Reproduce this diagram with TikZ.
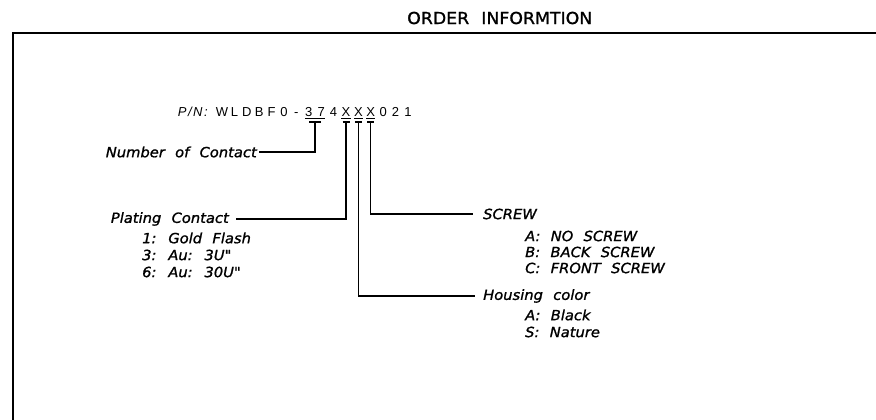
\documentclass[tikz,border=0pt]{standalone}
\usepackage{fontspec}
\setmainfont{Liberation Sans}
\newfontfamily\cadfont[WordSpace=2.2,FakeStretch=1.05,FakeBold=1.2]{DejaVu Sans}
\newfontfamily\pnfont[LetterSpace=12]{Liberation Sans}
\usetikzlibrary{positioning}
\tikzset{
  frame/.style={line width=1.4pt},
  lead/.style={line width=1.2pt},
  lbl/.style={font=\cadfont\itshape\fontsize{14}{16}\selectfont,inner sep=0pt,anchor=west},
  pnchar/.style={font=\fontsize{13}{15}\selectfont,inner sep=0pt,anchor=base},
}
\begin{document}
\begin{tikzpicture}[x=1pt,y=-1pt]
\useasboundingbox (0,0) rectangle (876,420);
\node[font=\cadfont\fontsize{16.5}{18}\selectfont,anchor=west,inner sep=0pt] (title) at (407,18) {ORDER INFORMTION};
\draw[frame] (876,33) -- (13,33) -- (13,420);
\node[font=\pnfont\itshape\fontsize{13}{15}\selectfont,inner sep=0pt,anchor=base east] (pn) at (208,116) {P/N:};
\foreach \i/\ch in {0/W,1/L,2/D,3/B,4/F,5/0,6/-,7/3,8/7,9/4,10/X,11/X,12/X,13/0,14/2,15/1}{\node[pnchar] (c\i) at ({222+12.4*\i},116) {\ch};}
\draw[line width=.8pt] ([yshift=-2pt]c7.base west) -- ([yshift=-2pt]c8.base east);
\coordinate (t37) at ({222+12.4*7.5},122);
\draw[lead] ([xshift=-6pt]t37) -- ([xshift=6pt]t37);
\foreach \i in {10,11,12}{
  \draw[line width=.8pt] ([yshift=-2pt]c\i.base west) -- ([yshift=-2pt]c\i.base east);
  \coordinate (t\i) at ({222+12.4*\i},122);
  \draw[lead] ([xshift=-3.5pt]t\i) -- ([xshift=3.5pt]t\i);
}
\node[lbl,anchor=east,inner xsep=2pt] (noc) at (259,152) {Number of Contact};
\draw[lead] (noc.east) -| (t37);
\node[lbl,anchor=east] (plc) at (229,219) {Plating Contact};
\draw[lead] ([xshift=7pt]plc.east) -| (t10);
\foreach \y/\txt [count=\k] in {238/{1: Gold Flash},255/{3: Au: 3U"},272/{6: Au: 30U"}}{\node[lbl] (pl\k) at (142,\y) {\txt};}
\node[lbl] (scr) at (483,214) {SCREW};
\draw[lead] (t12) |- ([xshift=-10pt]scr.west);
\foreach \y/\txt [count=\k] in {236/{A: NO SCREW},252/{B: BACK SCREW},268/{C: FRONT SCREW}}{\node[lbl] (sc\k) at (525,\y) {\txt};}
\node[lbl] (hc) at (483,296) {Housing color};
\draw[lead] (t11) |- ([xshift=-8pt]hc.west);
\foreach \y/\txt [count=\k] in {315/{A: Black},332/{S: Nature}}{\node[lbl] (hc\k) at (525,\y) {\txt};}
\end{tikzpicture}
\end{document}
